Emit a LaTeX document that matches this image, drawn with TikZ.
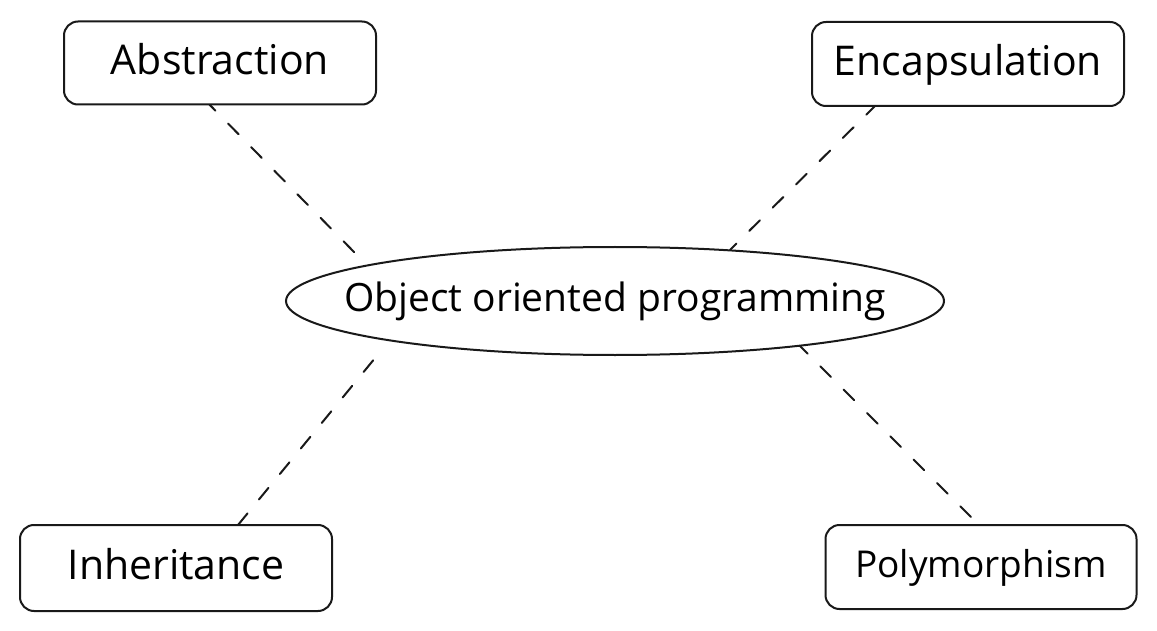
\documentclass[tikz,border=0pt]{standalone}
\usepackage{fontspec}
\setmainfont{Open Sans}
\tikzset{
  box/.style={draw=black!90, line width=2pt, rounded corners=14pt, fill=white,
    minimum width=312pt, minimum height=83pt, inner sep=0pt,
    text height=31pt, text depth=8pt},
  ovaltext/.style={inner sep=0pt, font=\fontsize{39}{44}\selectfont,
    text height=30pt, text depth=8pt},
  ovalline/.style={draw=black!90, line width=2pt, fill=white},
  link/.style={draw=black!90, line width=2pt, line cap=round, dash pattern=on 15pt off 18pt}
}
\begin{document}
\begin{tikzpicture}[x=1pt,y=-1pt]
\useasboundingbox[fill=white] (0,0) rectangle (1157,631);
% connectors first (behind nodes)
\coordinate (a1) at (205,100);
\coordinate (a2) at (355,253);
\coordinate (e1) at (877,104);
\coordinate (e2) at (730,250);
\coordinate (i1) at (238,525);
\coordinate (i2) at (380,352);
\coordinate (p1) at (797,343);
\coordinate (p2) at (978,524);
\draw[link] (a1) -- (a2);
\draw[link] (e1) -- (e2);
\draw[link] (i1) -- (i2);
\draw[link] (p1) -- (p2);
\node[box, font=\fontsize{41}{46}\selectfont] (abs) at (220,63) {Abstraction};
\node[box, minimum height=84pt, font=\fontsize{41}{46}\selectfont] (enc) at (968,64) {Encapsulation};
\node[box, minimum height=86pt, font=\fontsize{41}{46}\selectfont] (inh) at (176,568) {Inheritance};
\node[box, minimum width=311pt, minimum height=84pt, font=\fontsize{37}{42}\selectfont, text height=28pt, text depth=7pt] (poly) at (981,567) {Polymorphism};
\coordinate (oopc) at (615,301);
\draw[ovalline] (oopc) ellipse [x radius=329pt, y radius=54pt];
\node[ovaltext] (oop) at (oopc) {Object oriented programming};
\end{tikzpicture}
\end{document}
